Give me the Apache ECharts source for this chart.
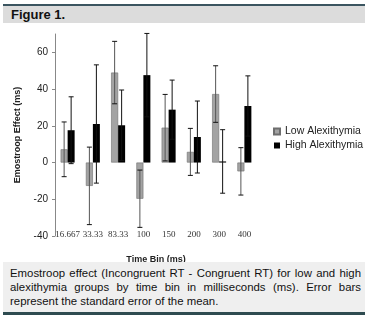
<!DOCTYPE html>
<html>
<head>
<meta charset="utf-8">
<script src="https://cdn.jsdelivr.net/npm/echarts@6/dist/echarts.min.js"></script>
<style>
  body { margin: 0; background: #fff; font-family: "Liberation Sans", Arial, sans-serif; }
  #wrap { position: relative; width: 372px; height: 315px; overflow: hidden; }
  #chart { position: absolute; left: 0; top: 0; width: 372px; height: 315px; }
  #topline { position: absolute; left: 3px; top: 4px; width: 362px; height: 2px; background: #3b5560; }
  #head { position: absolute; left: 3px; top: 6px; width: 362px; height: 17px; background: #dcdcdc;
          font-weight: bold; font-size: 13px; line-height: 17px; padding-left: 8px; box-sizing: border-box; color: #111; }
  #cap { position: absolute; left: 3px; top: 262px; width: 362px; height: 50px; background: #efefef;
         box-sizing: border-box; padding: 4px 4px 0 7px; font-size: 11.4px; line-height: 14px; color: #111; }
  #cap div { text-align: justify; text-align-last: justify; white-space: nowrap; overflow: hidden; }
  #cap div.last { text-align-last: left; }
  #botline { position: absolute; left: 3px; top: 312px; width: 362px; height: 3px; background: #2e4b50; }
</style>
</head>
<body>
<div id="wrap">
  <div id="chart"></div>
  <div id="topline"></div>
  <div id="head">Figure 1.</div>
  <div id="cap">
    <div>Emostroop effect (Incongruent RT - Congruent RT) for low and high</div>
    <div>alexithymia groups by time bin in milliseconds (ms). Error bars</div>
    <div class="last">represent the standard error of the mean.</div>
  </div>
  <div id="botline"></div>
</div>
<script>
// 时间分组
var timeBins = ['16.667', '33.33', '83.33', '100', '150', '200', '300', '400'];
// 均值
var lowMeans = [7.2, -12.7, 49, -19.7, 19, 5.8, 37.3, -4.8];
var highMeans = [17.6, 21, 20.3, 47.6, 28.8, 13.9, 0.6, 30.8];
// 标准误
var lowSE = [14.9, 21.1, 17, 15.6, 18.1, 12.8, 15.4, 12.9];
var highSE = [18.2, 32.2, 19.2, 22.7, 16.1, 19.6, 17.3, 16.4];

var barW = 7;

function errData(means, se) {
  return means.map(function (m, i) { return [i, m, m - se[i], m + se[i]]; });
}

function errSeries(name, means, se, dx, color) {
  return {
    name: name + ' err',
    type: 'custom',
    z: 5,
    silent: true,
    data: errData(means, se),
    encode: { x: 0, y: [2, 3] },
    renderItem: function (params, api) {
      var i = api.value(0);
      var lo = api.coord([i, api.value(2)]);
      var hi = api.coord([i, api.value(3)]);
      var x = lo[0] + dx;
      var style = { stroke: color, lineWidth: 1 };
      return {
        type: 'group',
        children: [
          { type: 'line', shape: { x1: x, y1: hi[1], x2: x, y2: lo[1] }, style: style },
          { type: 'line', shape: { x1: x - 2.5, y1: hi[1], x2: x + 2.5, y2: hi[1] }, style: { stroke: '#111', lineWidth: 1 } },
          { type: 'line', shape: { x1: x - 2.5, y1: lo[1], x2: x + 2.5, y2: lo[1] }, style: { stroke: '#111', lineWidth: 1 } }
        ]
      };
    }
  };
}

var chart = echarts.init(document.getElementById('chart'), null, { renderer: 'canvas' });

var option = {
  animation: false,
  legend: {
    orient: 'vertical',
    left: 268,
    top: 121,
    itemWidth: 6,
    itemHeight: 6,
    itemGap: 3,
    icon: 'rect',
    data: ['Low Alexithymia', 'High Alexithymia'],
    textStyle: { fontFamily: 'Liberation Sans', fontSize: 10.5, color: '#222' }
  },
  grid: { left: 55, right: 115, top: 34, bottom: 79 },
  xAxis: {
    type: 'category',
    data: timeBins,
    name: 'Time Bin (ms)',
    nameLocation: 'middle',
    nameGap: 19,
    nameTextStyle: { fontFamily: 'Liberation Sans', fontWeight: 'bold', fontSize: 9, color: '#222' },
    axisLine: { show: false },
    axisTick: { show: false },
    axisLabel: { margin: -6, fontFamily: 'Liberation Serif', fontSize: 9, color: '#333', interval: 0 }
  },
  yAxis: {
    type: 'value',
    min: -40,
    max: 70,
    interval: 20,
    name: 'Emostroop Effect (ms)',
    nameLocation: 'middle',
    nameGap: 33,
    nameTextStyle: { fontFamily: 'Liberation Sans', fontWeight: 'bold', fontSize: 9, color: '#222' },
    axisLine: { show: true, lineStyle: { color: '#888' } },
    axisTick: { show: true, length: 3, lineStyle: { color: '#888' } },
    axisLabel: { margin: 7, fontFamily: 'Liberation Sans', fontSize: 10, color: '#222', showMaxLabel: false },
    splitLine: { show: false }
  },
  series: [
    {
      name: 'Low Alexithymia',
      type: 'bar',
      barWidth: barW,
      barGap: 0,
      data: lowMeans,
      itemStyle: { color: '#a3a3a3', borderColor: '#6e6e6e', borderWidth: 0.6 }
    },
    {
      name: 'High Alexithymia',
      type: 'bar',
      barWidth: barW,
      barGap: 0,
      data: highMeans,
      itemStyle: { color: '#000' }
    },
    errSeries('Low Alexithymia', lowMeans, lowSE, -barW / 2, '#555'),
    errSeries('High Alexithymia', highMeans, highSE, barW / 2, '#111')
  ]
};

chart.setOption(option);
</script>
</body>
</html>
